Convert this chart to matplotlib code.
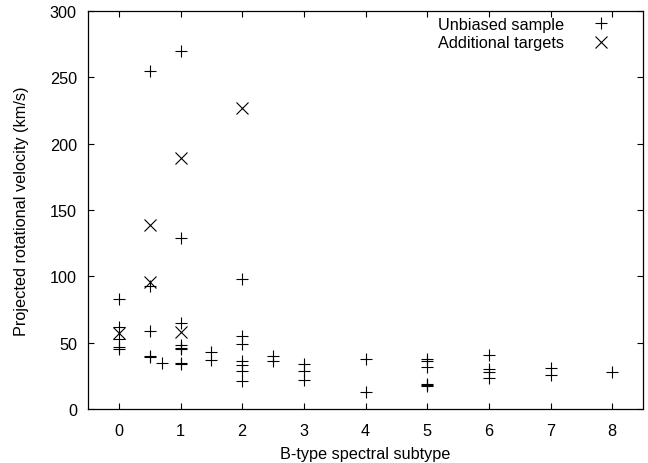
import matplotlib
matplotlib.use("Agg")
import matplotlib.pyplot as plt

# Unbiased sample (B subtype, v sin i)
unb_x = [0, 0, 0, 0, 0,
         0.5, 0.5, 0.5, 0.5, 0.5, 0.7,
         1, 1, 1, 1, 1, 1, 1, 1,
         1.5, 1.5,
         2, 2, 2, 2, 2, 2, 2,
         2.5, 2.5,
         3, 3, 3,
         4, 4,
         5, 5, 5, 5, 5, 5,
         6, 6, 6, 6,
         7, 7,
         8]
unb_v = [83, 62, 53, 47, 45,
         255, 93, 59, 40, 39, 35,
         270, 129, 65, 48, 46, 45, 35, 34,
         43, 37,
         98, 55, 49, 36, 33, 29, 21,
         40, 36,
         34, 29, 22,
         38, 13,
         38, 36, 32, 19, 18, 17,
         41, 30, 28, 23,
         31, 26,
         28]

# Additional targets
add_x = [0, 0.5, 0.5, 1, 1, 2]
add_v = [57, 139, 96, 189, 58, 227]

xticks = list(range(0, 9))
yticks = list(range(0, 301, 50))

plt.rcParams['font.family'] = ['Liberation Sans', 'DejaVu Sans']
FS = 11.7

fig = plt.figure(figsize=(6.48, 4.64), dpi=100)
ax = fig.add_axes([88/648, 1-410/464, (643-88)/648, (410-12)/464])

ax.plot(unb_x, unb_v, linestyle='none', marker='+', markersize=9,
        markeredgewidth=0.8, color='black', label='Unbiased sample')
ax.plot(add_x, add_v, linestyle='none', marker='x', markersize=8,
        markeredgewidth=0.8, color='black', label='Additional targets')

ax.set_xlim(-0.5, 8.5)
ax.set_ylim(0, 300)
ax.set_xticks(xticks)
ax.set_yticks(yticks)
ax.tick_params(direction='in', top=True, right=True, length=4, width=0.8,
               labelsize=FS)
ax.tick_params(axis='x', pad=10)
ax.tick_params(axis='y', pad=8)
for s in ax.spines.values():
    s.set_linewidth(0.9)

ax.set_xlabel('B-type spectral subtype', fontsize=FS, labelpad=6)
ax.set_ylabel('Projected rotational velocity (km/s)', fontsize=FS, labelpad=15)

leg = ax.legend(loc='upper right', frameon=False, markerfirst=False,
                fontsize=FS, handlelength=1.5, handletextpad=1.5,
                labelspacing=0.2, borderaxespad=0.0, borderpad=0.3,
                bbox_to_anchor=((618-88)/555, 0.997))

fig.savefig('out.png', dpi=100)
